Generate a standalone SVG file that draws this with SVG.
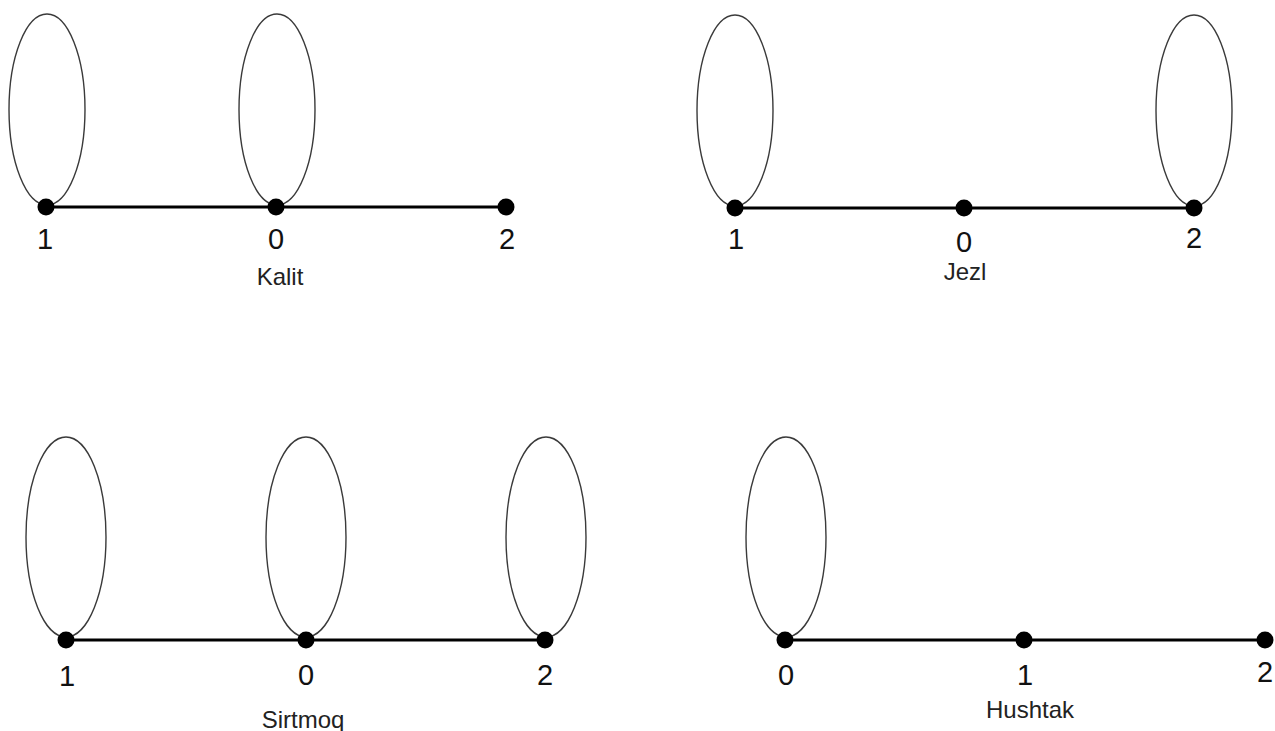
<svg xmlns="http://www.w3.org/2000/svg" width="1275" height="731" viewBox="0 0 1275 731">
<style>
.loop{fill:none;stroke:#3a3a3a;stroke-width:1.4}
.edge{stroke:#000;stroke-width:3;fill:none}
.dot{fill:#000}
.num{font-family:"Liberation Sans",Arial,sans-serif;font-size:29px;fill:#111;text-anchor:middle}
.cap{font-family:"Liberation Sans",Arial,sans-serif;font-size:24px;fill:#222;text-anchor:middle}
</style>
<rect width="1275" height="731" fill="#fff"/>
<g id="connectors">
<line class="edge" x1="46" y1="207" x2="506" y2="207"/>
<line class="edge" x1="735" y1="208" x2="1194" y2="208"/>
<line class="edge" x1="66" y1="640" x2="545" y2="640"/>
<line class="edge" x1="785" y1="640" x2="1265" y2="640"/>
</g>
<g id="kalit">
<g id="kalit-1"><ellipse class="loop" cx="47" cy="109.5" rx="38" ry="95.5"/><circle class="dot" cx="46" cy="207" r="8.5"/><text class="num" x="45" y="249">1</text></g>
<g id="kalit-0"><ellipse class="loop" cx="277" cy="109.5" rx="38" ry="95.5"/><circle class="dot" cx="276" cy="207" r="8.5"/><text class="num" x="276" y="249">0</text></g>
<g id="kalit-2"><circle class="dot" cx="506" cy="207" r="8.5"/><text class="num" x="507" y="249">2</text></g>
<text id="kalit-label" class="cap" x="280" y="285">Kalit</text>
</g>
<g id="jezl">
<g id="jezl-1"><ellipse class="loop" cx="735" cy="110.5" rx="38" ry="95.5"/><circle class="dot" cx="735" cy="208" r="8.5"/><text class="num" x="736" y="249">1</text></g>
<g id="jezl-0"><circle class="dot" cx="964" cy="208" r="8.5"/><text class="num" x="964" y="252">0</text></g>
<g id="jezl-2"><ellipse class="loop" cx="1194" cy="110.5" rx="38" ry="95.5"/><circle class="dot" cx="1194" cy="208" r="8.5"/><text class="num" x="1194" y="248">2</text></g>
<text id="jezl-label" class="cap" x="965" y="280">Jezl</text>
</g>
<g id="sirtmoq">
<g id="sirtmoq-1"><ellipse class="loop" cx="66" cy="537" rx="40" ry="100"/><circle class="dot" cx="66" cy="640" r="8.5"/><text class="num" x="67" y="686">1</text></g>
<g id="sirtmoq-0"><ellipse class="loop" cx="306" cy="537" rx="40" ry="100"/><circle class="dot" cx="306" cy="640" r="8.5"/><text class="num" x="306" y="685">0</text></g>
<g id="sirtmoq-2"><ellipse class="loop" cx="546" cy="537" rx="40" ry="100"/><circle class="dot" cx="545" cy="640" r="8.5"/><text class="num" x="545" y="685">2</text></g>
<text id="sirtmoq-label" class="cap" x="303" y="728">Sirtmoq</text>
</g>
<g id="hushtak">
<g id="hushtak-0"><ellipse class="loop" cx="786" cy="537" rx="40" ry="100"/><circle class="dot" cx="785" cy="640" r="8.5"/><text class="num" x="786" y="685">0</text></g>
<g id="hushtak-1"><circle class="dot" cx="1024" cy="640" r="8.5"/><text class="num" x="1025" y="685">1</text></g>
<g id="hushtak-2"><circle class="dot" cx="1265" cy="640" r="8.5"/><text class="num" x="1265" y="682">2</text></g>
<text id="hushtak-label" class="cap" x="1030" y="718">Hushtak</text>
</g>
</svg>
